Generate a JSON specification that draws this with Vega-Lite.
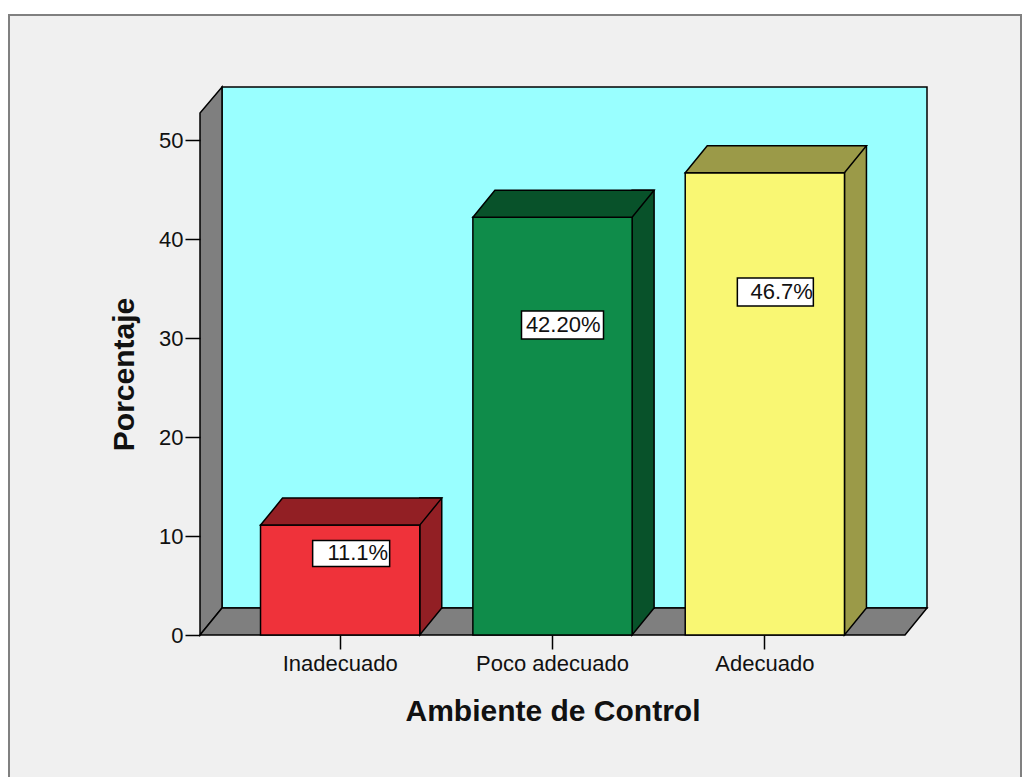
{
  "$schema": "https://vega.github.io/schema/vega-lite/v6.json",
  "autosize": {"type": "none"},
  "width": 705,
  "height": 522,
  "padding": {"left": 200, "top": 113, "right": 122, "bottom": 142},
  "background": "white",
  "config": {"view": {"stroke": null}},
  "data": {"values": [
    {"category": "Inadecuado", "value": 11.1, "label": "11.1%"},
    {"category": "Poco adecuado", "value": 42.2, "label": "42.20%"},
    {"category": "Adecuado", "value": 46.7, "label": "46.7%"}
  ]},
  "encoding": {
    "x": {
      "field": "category", "type": "nominal",
      "scale": {"type": "band", "domain": ["Inadecuado", "Poco adecuado", "Adecuado"], "paddingInner": 0.25, "paddingOuter": 0.285},
      "axis": {
        "title": "Ambiente de Control", "labelAngle": 0, "domain": false, "grid": false,
        "tickSize": 14, "tickColor": "#000", "tickWidth": 1.5,
        "labelFont": "Liberation Sans", "labelFontSize": 22, "labelColor": "#111", "labelPadding": 4,
        "titleFont": "Liberation Sans", "titleFontSize": 30, "titleFontWeight": "bold", "titleColor": "#111", "titlePadding": 22,
        "zindex": 1
      }
    }
  },
  "layer": [
    {
      "transform": [{"filter": "datum.category === 'Poco adecuado'"}],
      "encoding": {"y": {"datum": 0, "type": "quantitative", "scale": {"domain": [0, 52.73]}, "axis": null}},
      "layer": [
        {"mark": {"type": "point", "shape": "M-543.5,-620 L468.5,-620 L468.5,150 L-543.5,150 Z", "size": 4, "filled": true, "fill": "#f0f0f0", "stroke": "#808080", "strokeWidth": 2, "opacity": 1}},
        {"mark": {"type": "point", "shape": "M-330.5,-548 L374.5,-548 L374.5,-27 L-330.5,-27 Z", "size": 4, "filled": true, "fill": "#99ffff", "stroke": "#000", "strokeWidth": 1.5, "opacity": 1}},
        {"mark": {"type": "point", "shape": "M-352.5,0 L-352.5,-522 L-330.5,-548 L-330.5,-27 Z", "size": 4, "filled": true, "fill": "#7f7f7f", "stroke": "#000", "strokeWidth": 1.5, "opacity": 1}},
        {"mark": {"type": "point", "shape": "M-352.5,0 L352.5,0 L374.5,-27 L-330.5,-27 Z", "size": 4, "filled": true, "fill": "#7f7f7f", "stroke": "#000", "strokeWidth": 1.5, "opacity": 1}}
      ]
    },
    {
      "encoding": {
        "y": {
          "field": "value", "type": "quantitative",
          "scale": {"domain": [0, 52.73]},
          "axis": {
            "values": [0, 10, 20, 30, 40, 50], "title": "Porcentaje", "domain": false, "grid": false,
            "tickSize": 15, "tickColor": "#000", "tickWidth": 1.5,
            "labelFont": "Liberation Sans", "labelFontSize": 22, "labelColor": "#111", "labelPadding": 2,
            "titleFont": "Liberation Sans", "titleFontSize": 30, "titleFontWeight": "bold", "titleColor": "#111", "titlePadding": 19,
            "zindex": 1
          }
        }
      },
      "layer": [
        {
          "mark": {"type": "bar", "width": 22, "xOffset": 90.6, "yOffset": -27, "y2Offset": -27, "stroke": "#000", "strokeWidth": 1.5},
          "encoding": {
            "y2": {"datum": 0},
            "fill": {"field": "category", "type": "nominal", "scale": {"domain": ["Inadecuado", "Poco adecuado", "Adecuado"], "range": ["#921f24", "#08522a", "#9b9a48"]}, "legend": null}
          }
        },
        {
          "mark": {"type": "point", "shape": "M79.6,-28 L79.6,0 L101.6,-27 L101.6,-28", "size": 4, "filled": true, "stroke": "#000", "strokeWidth": 1.5, "opacity": 1},
          "encoding": {
            "y": {"datum": 0, "type": "quantitative"},
            "fill": {"field": "category", "type": "nominal", "scale": {"domain": ["Inadecuado", "Poco adecuado", "Adecuado"], "range": ["#921f24", "#08522a", "#9b9a48"]}, "legend": null}
          }
        },
        {
          "mark": {"type": "bar", "stroke": "#000", "strokeWidth": 1.5},
          "encoding": {
            "y2": {"datum": 0},
            "fill": {"field": "category", "type": "nominal", "scale": {"domain": ["Inadecuado", "Poco adecuado", "Adecuado"], "range": ["#ef323a", "#0f8c4a", "#f9f773"]}, "legend": null}
          }
        },
        {
          "mark": {"type": "point", "shape": "M-79.6,0 L79.6,0 L101.6,-27 L-57.6,-27 Z", "size": 4, "filled": true, "stroke": "#000", "strokeWidth": 1.5, "opacity": 1},
          "encoding": {
            "fill": {"field": "category", "type": "nominal", "scale": {"domain": ["Inadecuado", "Poco adecuado", "Adecuado"], "range": ["#921f24", "#08522a", "#9b9a48"]}, "legend": null}
          }
        }
      ],
      "resolve": {"scale": {"fill": "independent"}}
    },
    {
      "encoding": {
        "y": {"field": "value", "type": "quantitative", "scale": {"domain": [0, 71.07]}, "axis": null}
      },
      "layer": [
        {
          "mark": {"type": "point", "size": 4, "filled": true, "fill": "#ffffff", "stroke": "#000", "strokeWidth": 1.5, "opacity": 1},
          "encoding": {
            "shape": {"field": "category", "type": "nominal", "scale": {"domain": ["Inadecuado", "Poco adecuado", "Adecuado"], "range": ["M-27.5,-13 L49.5,-13 L49.5,13 L-27.5,13 Z", "M-31,-14 L51,-14 L51,14 L-31,14 Z", "M-27.5,-14 L48.5,-14 L48.5,14 L-27.5,14 Z"]}, "legend": null}
          }
        },
        {
          "mark": {"type": "text", "align": "right", "baseline": "middle", "xOffset": 48, "font": "Liberation Sans", "fontSize": 22, "fill": "#111"},
          "encoding": {"text": {"field": "label", "type": "nominal"}}
        }
      ]
    }
  ],
  "resolve": {"scale": {"y": "independent", "fill": "independent"}}
}
